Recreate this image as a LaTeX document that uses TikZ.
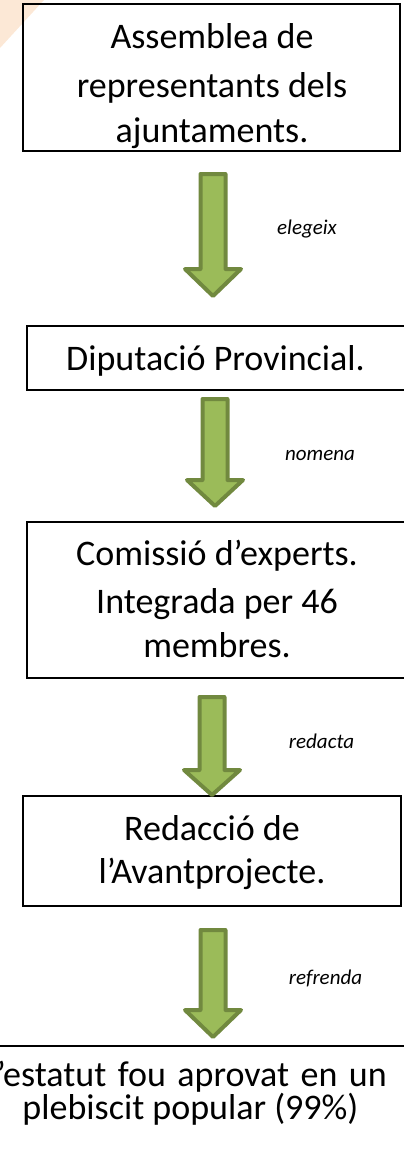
\documentclass[tikz,border=0pt]{standalone}
\usepackage{fontspec}
\setmainfont{Carlito}
\definecolor{arrfill}{RGB}{155,187,89}
\definecolor{arrline}{RGB}{113,137,63}
\definecolor{glowc}{RGB}{252,232,214}
\newcommand{\garrow}[5]{% name, center x, top y, head start y, tip y
  \draw[garr] (#2-12.5,#3) coordinate (#1top) -- (#2+12.5,#3) -- (#2+12.5,#4) -- (#2+28,#4)
    -- (#2,#5) coordinate (#1tip) -- (#2-28,#4) -- (#2-12.5,#4) -- cycle;}
\begin{document}
\begin{tikzpicture}[x=1pt,y=-1pt,
  box/.style={draw=black,line width=1.8pt,inner sep=0pt},
  txt/.style={font=\fontsize{36}{44}\selectfont,anchor=base,inner sep=0pt},
  lab/.style={font=\fontsize{21}{25}\selectfont\itshape,anchor=base,inner sep=0pt},
  garr/.style={fill=arrfill,draw=arrline,line width=4pt,line join=round}]
\useasboundingbox (0,0) rectangle (404,1149);
\fill[glowc] (0,0) -- (44,0) -- (0,48) -- cycle;
% boxes
\node[box,minimum width=377pt,minimum height=147pt] (b1) at (211.5,77.5) {};
\node[box,minimum width=379pt,minimum height=64pt] (b2) at (216.5,358) {};
\node[box,minimum width=381pt,minimum height=156pt] (b3) at (217.5,600) {};
\node[box,minimum width=378pt,minimum height=110pt] (b4) at (212,851) {};
\node[box,minimum width=444pt,minimum height=134pt] (b5) at (202,1113) {};
% texts
\node[txt] (t11) at (212,48) {Assemblea de};
\node[txt] (t12) at (212,97) {representants dels};
\node[txt] (t13) at (212,142) {ajuntaments.};
\node[txt] (t21) at (215.5,370) {Diputació Provincial.};
\node[txt] (t31) at (217,565) {Comissió d’experts.};
\node[txt] (t32) at (217,613) {Integrada per 46};
\node[txt] (t33) at (217,657) {membres.};
\node[txt] (t41) at (212,840) {Redacció de};
\node[txt] (t42) at (212,883) {l’Avantprojecte.};
\node[txt,anchor=base east] (t51) at (387,1086) {\spaceskip=11.5pt L’estatut fou aprovat en un};
\node[txt] (t52) at (190.5,1119) {plebiscit popular (99\%)};
% arrows
\garrow{a1}{213}{174}{269}{296}
\garrow{a2}{215}{399}{480}{506}
\garrow{a3}{212}{697}{770}{795}
\garrow{a4}{213}{930}{1010}{1037}
% labels
\node[lab] (l1) at (307,234) {elegeix};
\node[lab] (l2) at (320,460) {nomena};
\node[lab] (l3) at (321.5,748) {redacta};
\node[lab] (l4) at (325.5,984) {refrenda};
\end{tikzpicture}
\end{document}
